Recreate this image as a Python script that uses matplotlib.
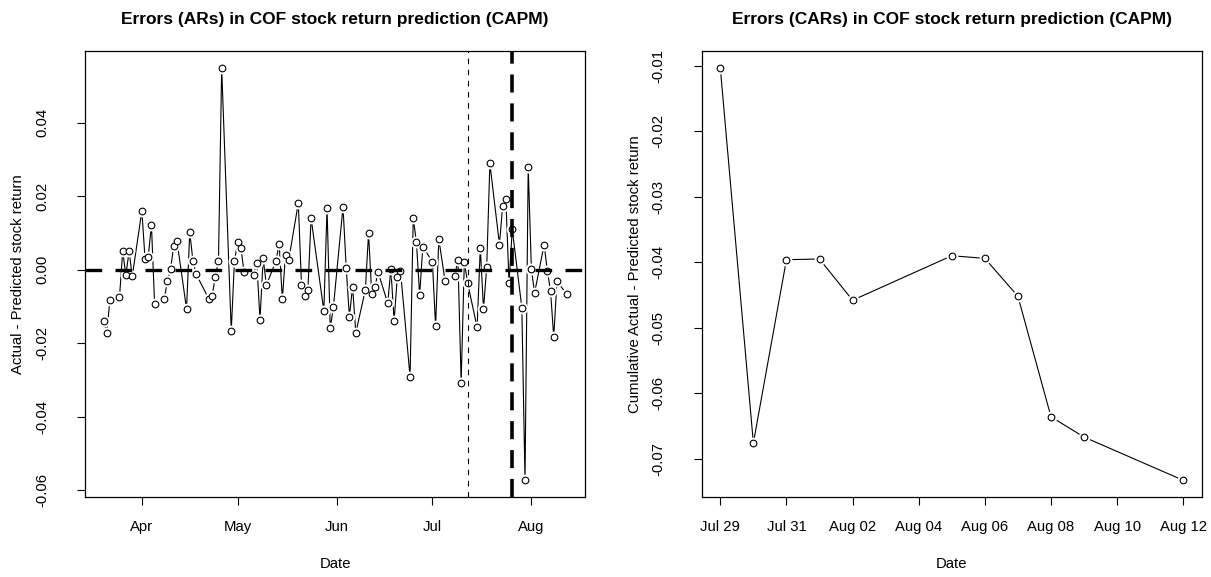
import matplotlib
matplotlib.use("Agg")
import matplotlib.pyplot as plt
import matplotlib.dates as mdates
import numpy as np
import pandas as pd

plt.rcParams['font.family'] = ['Liberation Sans', 'DejaVu Sans']

# Abnormal returns (actual - CAPM predicted) for COF, one per trading day
ar_start = '2019-03-20'
ar_end = '2019-08-12'
market_holidays = ['2019-04-19', '2019-05-27', '2019-07-04']
ar_values = [
    -0.0139, -0.0171, -0.0083, -0.0075, 0.0050, -0.0015, 0.0050, -0.0018,
    0.0160, 0.0030, 0.0035, 0.0122, -0.0094,
    -0.0080, -0.0032, 0.0003, 0.0065, 0.0078,
    -0.0107, 0.0102, 0.0024, -0.0012,
    -0.0080, -0.0071, -0.0021, 0.0024, 0.0549,
    -0.0167, 0.0024,
    0.0074, 0.0059, -0.0005,
    -0.0014, 0.0018, -0.0136, 0.0031, -0.0042,
    0.0024, 0.0070, -0.0080, 0.0041, 0.0027,
    0.0181, -0.0042, -0.0071, -0.0055, 0.0140,
    -0.0112, 0.0168, -0.0160, -0.0101,
    0.0171, 0.0005, -0.0128, -0.0046, -0.0172,
    -0.0055, 0.0099, -0.0066, -0.0046, -0.0007,
    -0.0091, 0.0002, -0.0139, -0.0021, -0.0003,
    -0.0291, 0.0141, 0.0074, -0.0069, 0.0063,
    0.0021, -0.0154, 0.0083, -0.0032,
    -0.0016, 0.0027, -0.0307, 0.0022, -0.0035,
    -0.0157, 0.0060, -0.0107, 0.0006, 0.0289,
    0.0068, 0.0174, 0.0193, -0.0037, 0.0110,
    -0.0103, -0.0573, 0.0280,
    0.0001, -0.0063,
    0.0068, -0.0004, -0.0058, -0.0184, -0.0031,
    -0.0066,
]
estimation_end = '2019-07-12'
pre_event = '2019-07-26'

# Cumulative abnormal returns over the event window
car_dates = ['2019-07-29', '2019-07-30', '2019-07-31', '2019-08-01', '2019-08-02',
             '2019-08-05', '2019-08-06', '2019-08-07', '2019-08-08', '2019-08-09',
             '2019-08-12']
car_values = [-0.0103, -0.0676, -0.0396, -0.0395, -0.0458,
              -0.0390, -0.0394, -0.0452, -0.0636, -0.0667, -0.0733]

ar_dates = pd.bdate_range(ar_start, ar_end, freq='C', holidays=market_holidays)
car_dates = pd.to_datetime(car_dates)

FS = 10.7


def r_style_series(ax, x, y):
    # line + open circles with a small gap around each point
    ax.plot(x, y, color='black', lw=0.8, zorder=2)
    ax.plot(x, y, ls='none', marker='o', ms=7.5, mfc='white', mec='white', zorder=3)
    ax.plot(x, y, ls='none', marker='o', ms=4.8, mfc='white', mec='black', mew=0.8, zorder=4)


def r_style_axes(ax):
    for s in ax.spines.values():
        s.set_linewidth(0.9)
    ax.tick_params(axis='x', direction='out', length=6, width=0.8, labelsize=FS, pad=11)
    ax.tick_params(axis='y', direction='out', length=6, width=0.8, labelsize=FS, pad=20)
    for lab in ax.get_yticklabels():
        lab.set_rotation(90)
        lab.set_va('center')


fig = plt.figure(figsize=(12.11, 5.77), dpi=100)
ax1 = fig.add_axes([0.0702, 0.139, 0.4129, 0.772])
ax2 = fig.add_axes([0.5795, 0.139, 0.4129, 0.772])

# Left: daily abnormal returns
r_style_series(ax1, ar_dates, ar_values)
ax1.axhline(0, color='black', lw=2.4, ls=(0, (5, 4)), zorder=5)
ax1.axvline(pd.Timestamp(estimation_end), color='black', lw=0.8, ls=(0, (5, 5)), zorder=5)
ax1.axvline(pd.Timestamp(pre_event), color='black', lw=2.6, ls=(0, (5, 3)), zorder=5)

span = ar_dates[-1] - ar_dates[0]
ax1.set_xlim(ar_dates[0] - span * 0.04, ar_dates[-1] + span * 0.04)
yr = max(ar_values) - min(ar_values)
ax1.set_ylim(min(ar_values) - 0.04 * yr, max(ar_values) + 0.04 * yr)
ax1.xaxis.set_major_locator(mdates.MonthLocator())
ax1.xaxis.set_major_formatter(mdates.DateFormatter('%b'))
ax1.set_yticks([-0.06, -0.04, -0.02, 0.00, 0.02, 0.04])
ax1.set_yticklabels(['-0.06', '-0.04', '-0.02', '0.00', '0.02', '0.04'])
r_style_axes(ax1)
ax1.set_xlabel('Date', fontsize=FS, labelpad=16)
ax1.set_ylabel('Actual - Predicted stock return', fontsize=FS, labelpad=7)
ax1.set_title('Errors (ARs) in COF stock return prediction (CAPM)',
              fontsize=12.5, fontweight='bold', pad=20)

# Right: cumulative abnormal returns
r_style_series(ax2, car_dates, car_values)
span2 = car_dates[-1] - car_dates[0]
ax2.set_xlim(car_dates[0] - span2 * 0.04, car_dates[-1] + span2 * 0.04)
yr2 = max(car_values) - min(car_values)
ax2.set_ylim(min(car_values) - 0.04 * yr2, max(car_values) + 0.04 * yr2)
ax2.set_xticks(pd.date_range('2019-07-29', '2019-08-12', freq='2D'))
ax2.xaxis.set_major_formatter(mdates.DateFormatter('%b %d'))
ax2.set_yticks([-0.07, -0.06, -0.05, -0.04, -0.03, -0.02, -0.01])
ax2.set_yticklabels(['-0.07', '-0.06', '-0.05', '-0.04', '-0.03', '-0.02', '-0.01'])
r_style_axes(ax2)
ax2.set_xlabel('Date', fontsize=FS, labelpad=16)
ax2.set_ylabel('Cumulative Actual - Predicted stock return', fontsize=FS, labelpad=7)
ax2.set_title('Errors (CARs) in COF stock return prediction (CAPM)',
              fontsize=12.5, fontweight='bold', pad=20)

fig.savefig('out.png', dpi=100)
